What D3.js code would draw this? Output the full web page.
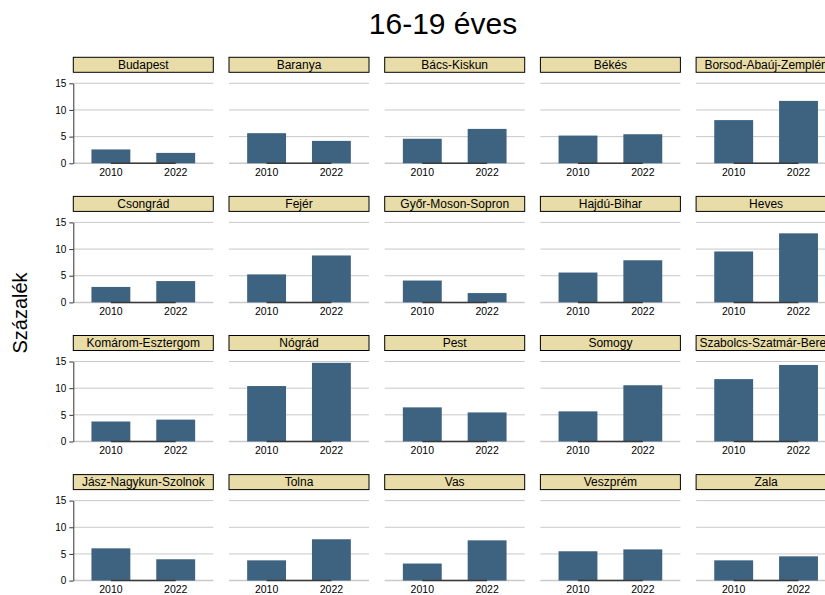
<!DOCTYPE html>
<html>
<head>
<meta charset="utf-8">
<script src="https://cdn.jsdelivr.net/npm/d3@7"></script>
<style>
  html, body { margin: 0; padding: 0; background: #fff; }
  svg { display: block; font-family: "Liberation Sans", Arial, sans-serif; }
</style>
</head>
<body>
<svg id="chart" width="825" height="595"></svg>
<script>
const title = "16-19 éves";
const yTitle = "Százalék";
const counties = [
  "Budapest", "Baranya", "Bács-Kiskun", "Békés", "Borsod-Abaúj-Zemplén",
  "Csongrád", "Fejér", "Győr-Moson-Sopron", "Hajdú-Bihar", "Heves",
  "Komárom-Esztergom", "Nógrád", "Pest", "Somogy", "Szabolcs-Szatmár-Bereg",
  "Jász-Nagykun-Szolnok", "Tolna", "Vas", "Veszprém", "Zala"
];
const years = ["2010", "2022"];
const v2010 = [2.6, 5.65, 4.6, 5.2, 8.1, 2.9, 5.25, 4.1, 5.6, 9.55, 3.75, 10.4, 6.4, 5.65, 11.7, 6.05, 3.8, 3.2, 5.5, 3.8];
const v2022 = [1.95, 4.2, 6.45, 5.45, 11.7, 4.0, 8.8, 1.75, 7.9, 12.95, 4.1, 14.75, 5.45, 10.55, 14.35, 4.0, 7.75, 7.55, 5.85, 4.55];
const yTicks = [0, 5, 10, 15];

const svg = d3.select("#chart");
const nCols = 5;
const panelW = 140, plotH = 80, stripH = 15;
const colStep = 155.7, rowStep = 139.1;
const left0 = 73.3, top0 = 57.3;

const barColor = "#3e6380";
const stripFill = "#e8dca8";
const gridColor = "#c9c9c9";

const x = d3.scaleBand().domain(years).range([0, panelW]).paddingInner(0.4).paddingOuter(0.28);
const y = d3.scaleLinear().domain([0, 15]).range([plotH, 0]);

svg.append("text")
  .attr("x", 443).attr("y", 34)
  .attr("text-anchor", "middle")
  .attr("font-size", 30)
  .attr("fill", "#000")
  .text(title);

svg.append("text")
  .attr("transform", "translate(27,313) rotate(-90)")
  .attr("text-anchor", "middle")
  .attr("font-size", 20)
  .attr("fill", "#000")
  .text(yTitle);

counties.forEach((name, i) => {
  const col = i % nCols, row = Math.floor(i / nCols);
  const gx = left0 + col * colStep;
  const gy = top0 + row * rowStep;
  const g = svg.append("g").attr("transform", `translate(${gx},${gy})`);

  // strip
  g.append("rect")
    .attr("x", 0).attr("y", 0)
    .attr("width", panelW).attr("height", stripH)
    .attr("fill", stripFill).attr("stroke", "#000").attr("stroke-width", 1);
  g.append("text")
    .attr("x", panelW / 2).attr("y", stripH / 2 + 4.3)
    .attr("text-anchor", "middle")
    .attr("font-size", 12)
    .attr("fill", "#000")
    .text(name);

  const p = g.append("g").attr("transform", `translate(0,${stripH + 11})`);

  // gridlines
  p.selectAll("line.grid").data(yTicks).enter().append("line")
    .attr("class", "grid")
    .attr("x1", 0).attr("x2", panelW)
    .attr("y1", d => y(d)).attr("y2", d => y(d))
    .attr("stroke", gridColor)
    .attr("stroke-width", d => d === 0 ? 1.5 : 1);

  // bars
  const vals = [v2010[i], v2022[i]];
  p.selectAll("rect.bar").data(years).enter().append("rect")
    .attr("class", "bar")
    .attr("x", d => x(d))
    .attr("width", x.bandwidth())
    .attr("y", (d, k) => y(vals[k]))
    .attr("height", (d, k) => y(0) - y(vals[k]))
    .attr("fill", barColor);

  // x axis segment (center to center)
  p.append("line")
    .attr("x1", x(years[0]) + x.bandwidth() / 2)
    .attr("x2", x(years[years.length - 1]) + x.bandwidth() / 2)
    .attr("y1", y(0)).attr("y2", y(0))
    .attr("stroke", "#3a3a3a").attr("stroke-width", 1.5);

  // x tick labels
  const xa = p.append("g").attr("transform", `translate(0,${plotH})`)
    .call(d3.axisBottom(x).tickSize(0).tickPadding(5));
  xa.select(".domain").remove();
  xa.selectAll("text").attr("font-size", 10.5).attr("fill", "#000")
    .attr("font-family", "Liberation Sans, Arial, sans-serif");

  // y axis on first column
  if (col === 0) {
    const ya = p.append("g")
      .call(d3.axisLeft(y).tickValues(yTicks).tickSize(4).tickSizeOuter(0).tickPadding(3));
    ya.select(".domain").attr("stroke", "#333");
    ya.selectAll(".tick line").attr("stroke", "#333");
    ya.selectAll("text").attr("font-size", 10).attr("fill", "#000")
      .attr("font-family", "Liberation Sans, Arial, sans-serif");
  }
});
</script>
</body>
</html>
